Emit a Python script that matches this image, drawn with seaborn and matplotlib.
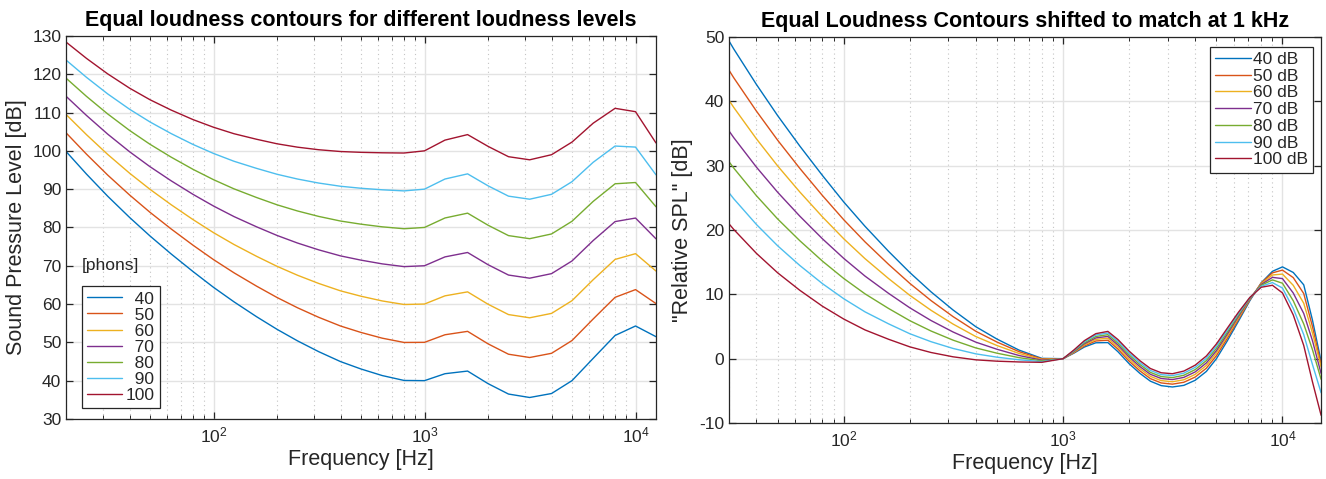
import matplotlib
matplotlib.use("Agg")
import matplotlib.pyplot as plt
import seaborn as sns
import pandas as pd
from matplotlib.lines import Line2D
from matplotlib.ticker import LogLocator, NullFormatter, FixedLocator


# ISO 226 style contour values (SPL in dB)
FREQS = [20, 25, 31.5, 40, 50, 63, 80, 100, 125, 160, 200, 250, 315, 400,
         500, 630, 800, 1000, 1250, 1600, 2000, 2500, 3150, 4000, 5000,
         6300, 8000, 10000, 12500]

spl_40 = [99.85, 93.94, 88.17, 82.63, 77.78, 73.08, 68.48, 64.37, 60.59, 56.70,
          53.41, 50.40, 47.58, 44.98, 43.05, 41.34, 40.06, 40.01, 41.82, 42.51,
          39.23, 36.51, 35.61, 36.65, 40.01, 45.83, 51.80, 54.28, 51.49]
spl_50 = [104.72, 99.14, 93.69, 88.49, 83.96, 79.61, 75.36, 71.61, 68.17, 64.68,
          61.72, 59.04, 56.55, 54.27, 52.59, 51.10, 49.98, 50.01, 51.99, 52.88,
          49.62, 46.91, 46.05, 47.15, 50.48, 56.11, 61.76, 63.78, 60.14]
spl_60 = [109.51, 104.23, 99.08, 94.18, 89.96, 85.94, 82.05, 78.65, 75.56, 72.47,
          69.86, 67.53, 65.39, 63.45, 62.05, 60.82, 59.89, 60.01, 62.15, 63.19,
          59.96, 57.26, 56.42, 57.57, 60.89, 66.36, 71.66, 73.16, 68.63]
spl_70 = [114.26, 109.25, 104.38, 99.78, 95.87, 92.18, 88.64, 85.60, 82.85, 80.17,
          77.92, 75.94, 74.16, 72.58, 71.47, 70.50, 69.78, 70.01, 72.32, 73.47,
          70.28, 67.58, 66.76, 67.95, 71.26, 76.59, 81.54, 82.46, 77.04]
spl_80 = [118.99, 114.23, 109.65, 105.34, 101.72, 98.36, 95.17, 92.48, 90.09, 87.82,
          85.92, 84.31, 82.89, 81.68, 80.86, 80.17, 79.67, 80.01, 82.48, 83.74,
          80.59, 77.88, 77.07, 78.31, 81.62, 86.81, 91.41, 91.74, 85.41]
spl_90 = [123.71, 119.20, 114.88, 110.87, 107.55, 104.51, 101.67, 99.33, 97.29, 95.43,
          93.89, 92.65, 91.60, 90.76, 90.24, 89.84, 89.55, 90.01, 92.65, 94.00,
          90.88, 88.18, 87.38, 88.66, 91.96, 97.02, 101.26, 100.99, 93.75]
spl_100 = [128.41, 124.15, 120.11, 116.38, 113.35, 110.65, 108.16, 106.17, 104.48, 103.03,
           101.85, 100.97, 100.30, 99.83, 99.62, 99.50, 99.44, 100.01, 102.81, 104.25,
           101.18, 98.48, 97.67, 99.00, 102.30, 107.23, 111.11, 110.23, 102.07]

# right panel: curves relative to their 1 kHz value
REL_FREQS = [25, 31.5, 40, 50, 63, 80, 100, 125, 160, 200, 250, 315, 400, 500,
             630, 800, 1000, 1120, 1250, 1410, 1600, 1780, 2000, 2240, 2500,
             2800, 3150, 3550, 4000, 4500, 5000, 5600, 6300, 7100, 8000, 9000,
             10000, 11200, 12500, 13700, 15000]

rel_40 = [53.93, 48.16, 42.62, 37.77, 33.07, 28.47, 24.36, 20.58, 16.69, 13.40,
          10.39, 7.57, 4.97, 3.04, 1.33, 0.05, 0.0, 0.86, 1.81, 2.47, 2.50,
          1.07, -0.78, -2.29, -3.50, -4.19, -4.40, -4.15, -3.36, -1.98, 0.00,
          2.75, 5.82, 9.01, 11.79, 13.58, 14.27, 13.4, 11.48, 6.0, -0.4]
rel_50 = [49.13, 43.68, 38.48, 33.95, 29.60, 25.35, 21.60, 18.16, 14.67, 11.71,
          9.03, 6.54, 4.26, 2.58, 1.09, -0.03, 0.0, 0.94, 1.98, 2.75, 2.87,
          1.47, -0.39, -1.90, -3.10, -3.77, -3.96, -3.67, -2.86, -1.48, 0.47,
          3.14, 6.10, 9.15, 11.75, 13.34, 13.77, 12.6, 10.13, 5.0, -0.9]
rel_60 = [44.22, 39.07, 34.17, 29.95, 25.93, 22.04, 18.64, 15.55, 12.46, 9.85,
          7.52, 5.38, 3.44, 2.04, 0.81, -0.12, 0.0, 1.01, 2.14, 3.00, 3.18,
          1.80, -0.05, -1.55, -2.75, -3.41, -3.59, -3.28, -2.44, -1.05, 0.88,
          3.49, 6.35, 9.25, 11.65, 13.01, 13.15, 11.4, 8.62, 4.0, -1.3]
rel_70 = [39.24, 34.37, 29.77, 25.86, 22.17, 18.63, 15.59, 12.84, 10.16, 7.91,
          5.93, 4.15, 2.57, 1.46, 0.49, -0.23, 0.0, 1.10, 2.31, 3.23, 3.46,
          2.11, 0.27, -1.23, -2.43, -3.08, -3.25, -2.91, -2.06, -0.66, 1.25,
          3.81, 6.58, 9.33, 11.53, 12.64, 12.45, 10.2, 7.03, 2.8, -2.3]
rel_80 = [34.22, 29.64, 25.33, 21.71, 18.35, 15.16, 12.47, 10.08, 7.81, 5.91,
          4.30, 2.88, 1.67, 0.85, 0.16, -0.34, 0.0, 1.18, 2.47, 3.45, 3.73,
          2.40, 0.58, -0.92, -2.13, -2.78, -2.94, -2.58, -1.70, -0.29, 1.61,
          4.12, 6.80, 9.40, 11.40, 12.25, 11.73, 9.0, 5.40, 1.4, -3.2]
rel_90 = [29.19, 24.87, 20.86, 17.54, 14.50, 11.66, 9.32, 7.28, 5.42, 3.88,
          2.64, 1.59, 0.75, 0.23, -0.17, -0.46, 0.0, 1.26, 2.64, 3.68, 3.99,
          2.68, 0.87, -0.63, -1.83, -2.48, -2.63, -2.25, -1.35, 0.06, 1.95,
          4.42, 7.01, 9.46, 11.25, 11.83, 10.98, 7.8, 3.74, -0.9, -5.3]
rel_100 = [24.14, 20.10, 16.37, 13.34, 10.64, 8.15, 6.16, 4.47, 3.02, 1.84,
           0.96, 0.29, -0.18, -0.39, -0.51, -0.57, 0.0, 1.35, 2.80, 3.89, 4.24,
           2.96, 1.17, -0.32, -1.53, -2.19, -2.34, -1.93, -1.01, 0.42, 2.29,
           4.72, 7.22, 9.52, 11.10, 11.41, 10.22, 6.8, 2.06, -3.6, -8.8]

PHONS = ["40", "50", "60", "70", "80", "90", "100"]
DB_LABELS = ["40 dB", "50 dB", "60 dB", "70 dB", "80 dB", "90 dB", "100 dB"]

# MATLAB default line colours
COLORS = ["#0072BD", "#D95319", "#EDB120", "#7E2F8E", "#77AC30", "#4DBEEE", "#A2142F"]

TXT = "#262626"


def long_frame(freqs, series, labels):
    rows = []
    for lab, vals in zip(labels, series):
        for f, v in zip(freqs, vals):
            rows.append((f, v, lab))
    return pd.DataFrame(rows, columns=["freq", "spl", "curve"])


spl_df = long_frame(FREQS, [spl_40, spl_50, spl_60, spl_70, spl_80, spl_90, spl_100], PHONS)
rel_df = long_frame(REL_FREQS, [rel_40, rel_50, rel_60, rel_70, rel_80, rel_90, rel_100], DB_LABELS)


sns.set_style("ticks")
plt.rcParams["font.family"] = ["Liberation Sans", "DejaVu Sans"]
plt.rcParams["mathtext.default"] = "regular"
plt.rcParams["axes.unicode_minus"] = False
plt.rcParams["text.color"] = TXT
plt.rcParams["axes.labelcolor"] = TXT

fig = plt.figure(figsize=(13.26, 4.79), dpi=100)
ax1 = fig.add_axes([0.0498, 0.1253, 0.4449, 0.7996])
ax2 = fig.add_axes([0.5498, 0.1169, 0.4465, 0.8058])


def style_axes(ax):
    ax.set_xscale("log")
    ax.xaxis.set_major_locator(FixedLocator([100, 1000, 10000]))
    ax.set_xticklabels(["$10^{2}$", "$10^{3}$", "$10^{4}$"])
    ax.xaxis.set_minor_locator(LogLocator(base=10, subs=range(2, 10), numticks=20))
    ax.xaxis.set_minor_formatter(NullFormatter())
    ax.grid(True, which="major", color="#e3e3e3", linewidth=1.0, linestyle="-")
    ax.xaxis.grid(True, which="minor", color="#c4c4c4", linewidth=0.8, linestyle=(0, (1, 3)))
    ax.set_axisbelow(True)
    for sp in ax.spines.values():
        sp.set_visible(True)
        sp.set_color(TXT)
        sp.set_linewidth(0.9)
    ax.tick_params(which="both", direction="in", top=True, right=True,
                   colors=TXT, labelsize=12.5)
    ax.tick_params(which="major", length=5, width=0.9)
    ax.tick_params(which="minor", length=3, width=0.7)
    ax.tick_params(axis="x", pad=5)


handles = [Line2D([], [], color=c, linewidth=1.0) for c in COLORS]

# left panel: absolute levels
sns.lineplot(data=spl_df, x="freq", y="spl", hue="curve", hue_order=PHONS,
             palette=COLORS, estimator=None, linewidth=1.0, legend=False, ax=ax1)
style_axes(ax1)
ax1.set_xlim(20, 12500)
ax1.set_ylim(30, 130)
ax1.set_yticks(range(30, 131, 10))
ax1.set_xlabel("Frequency [Hz]", fontsize=15.5, labelpad=2)
ax1.set_ylabel("Sound Pressure Level [dB]", fontsize=15.5, labelpad=4)
ax1.set_title("Equal loudness contours for different loudness levels",
              fontsize=15.5, fontweight="bold", color="black", pad=7)

# right-align the numbers with figure spaces, like the reference legend
phon_labels = [p.rjust(3, "\u2007") for p in PHONS]
leg1 = ax1.legend(handles, phon_labels, loc="lower left", bbox_to_anchor=(0.027, 0.029),
                  borderaxespad=0, fontsize=12.5, frameon=True, fancybox=False,
                  framealpha=1, edgecolor=TXT, labelspacing=0.05, borderpad=0.3,
                  handlelength=2.0, handletextpad=0.2)
leg1.get_frame().set_linewidth(0.9)
ax1.text(0.027, 0.40, "[phons]", transform=ax1.transAxes, fontsize=12.5,
         ha="left", va="center", color=TXT)

# right panel: shifted to 0 dB at 1 kHz
sns.lineplot(data=rel_df, x="freq", y="spl", hue="curve", hue_order=DB_LABELS,
             palette=COLORS, estimator=None, linewidth=1.0, legend=False, ax=ax2)
style_axes(ax2)
ax2.set_xlim(30, 15000)
ax2.set_ylim(-10, 50)
ax2.set_yticks(range(-10, 51, 10))
ax2.set_xlabel("Frequency [Hz]", fontsize=15.5, labelpad=2)
ax2.set_ylabel('"Relative SPL" [dB]', fontsize=15.5, labelpad=4)
ax2.set_title("Equal Loudness Contours shifted to match at 1 kHz",
              fontsize=15.5, fontweight="bold", color="black", pad=7)
leg2 = ax2.legend(handles, DB_LABELS, loc="upper right", bbox_to_anchor=(0.987, 0.975),
                  borderaxespad=0, fontsize=12.5, frameon=True, fancybox=False,
                  framealpha=1, edgecolor=TXT, labelspacing=0.09, borderpad=0.3,
                  handlelength=2.1, handletextpad=0.1)
leg2.get_frame().set_linewidth(0.9)

fig.savefig("out.png", dpi=100)
